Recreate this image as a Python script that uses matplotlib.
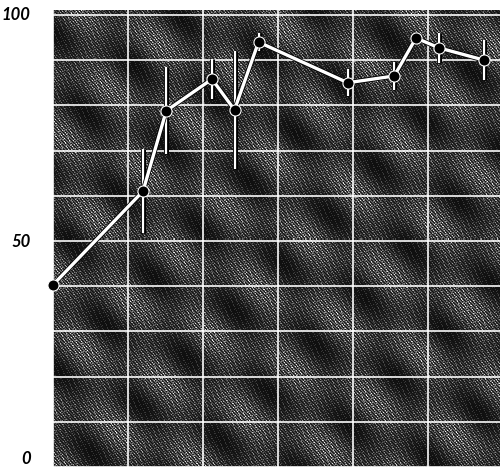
import matplotlib
matplotlib.use("Agg")
import matplotlib.pyplot as plt
import matplotlib.patheffects as pe
import numpy as np

# values (x in grid units, y on the 0-100 scale)
xs = [0.0, 1.2, 1.51, 2.12, 2.42, 2.74, 3.93, 4.55, 4.84, 5.15, 5.75]
ys = [40.3, 61.0, 78.8, 85.8, 79.0, 94.0, 85.0, 86.5, 94.9, 92.7, 90.0]
errs = [0, 9.3, 9.6, 4.5, 13.0, 2.0, 3.0, 3.0, 0, 3.4, 4.4]
ytick_vals = list(range(0, 101, 10))
ytick_text = ["0", "", "", "", "", "50", "", "", "", "", "100"]

xmax = 5.96
ymax = 101.1

fig = plt.figure(figsize=(5, 4.7), dpi=100)
ax = fig.add_axes([0.106, 0.0064, 0.894, 0.9724])

# dark scanned-paper texture (decoration only)
h, w = 457, 447
yy, xx = np.mgrid[0:h, 0:w]
u = xx - yy
broad = 0.5 + 0.5 * np.sin(2 * np.pi * u / 95.0) * np.sin(2 * np.pi * (xx + yy) / 230.0 + 1.0)
fine = 0.5 + 0.5 * np.sin(2 * np.pi * u / 3.3)
speck = ((xx * 7 + yy * 13) % 11 == 0) | ((xx * 5 + yy * 3) % 17 == 0)
tex = 0.06 + 0.45 * broad * fine + 0.35 * speck * (0.4 + broad)
tex = np.clip(tex, 0, 1)
ax.imshow(tex, extent=[0, xmax, 0, ymax], aspect="auto", cmap="gray",
          vmin=0, vmax=1, zorder=0, interpolation="nearest")

ax.set_xlim(0, xmax)
ax.set_ylim(0, ymax)
ax.set_xticks(np.arange(0, 6, 1))
ax.set_yticks(ytick_vals)
ax.set_yticklabels(ytick_text, fontsize=12, fontstyle="italic",
                   fontweight="bold", family="Lato")
ax.tick_params(axis="y", length=0, pad=16)
ax.tick_params(axis="x", length=0, labelbottom=False)
for lab in ax.get_yticklabels():
    if lab.get_text() == "0":
        lab.set_verticalalignment("bottom")
    if lab.get_text() == "100":
        lab.set_verticalalignment("center")
ax.grid(True, color="white", linewidth=1.3, alpha=0.9, zorder=1)
ax.set_axisbelow(False)
for s in ax.spines.values():
    s.set_visible(False)

eb = ax.errorbar(xs, ys, yerr=errs, fmt="none", ecolor="white",
                 elinewidth=1.6, capsize=0, zorder=3)
for c in eb[2]:
    c.set_path_effects([pe.Stroke(linewidth=3.6, foreground="black"), pe.Normal()])

ax.plot(xs, ys, color="white", linewidth=2.4, zorder=4,
        path_effects=[pe.Stroke(linewidth=3.6, foreground="black"), pe.Normal()])
ax.plot(xs, ys, linestyle="none", marker="o", markersize=8,
        markerfacecolor="black", markeredgecolor="white", markeredgewidth=0.8,
        zorder=5, clip_on=False)

fig.savefig("out.png", dpi=100)
